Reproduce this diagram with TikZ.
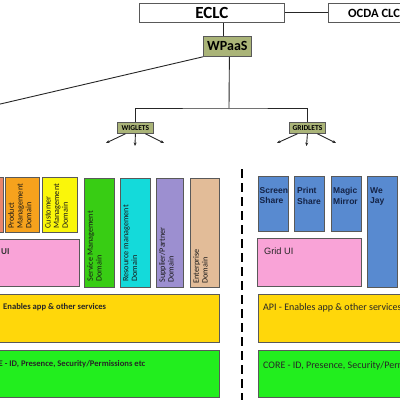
\documentclass[tikz,border=0pt]{standalone}
\usepackage{fontspec}
\setmainfont{Carlito}
\newfontfamily\arialf{Liberation Sans}
\usetikzlibrary{arrows.meta}
\definecolor{olivebox}{RGB}{170,180,120}
\definecolor{salmonbox}{RGB}{233,134,108}
\definecolor{orangebox}{RGB}{246,162,29}
\definecolor{yellowbox}{RGB}{250,246,10}
\definecolor{greenbox}{RGB}{56,205,20}
\definecolor{cyanbox}{RGB}{20,218,218}
\definecolor{purplebox}{RGB}{156,143,208}
\definecolor{tanbox}{RGB}{226,188,152}
\definecolor{pinkbox}{RGB}{249,163,215}
\definecolor{goldbox}{RGB}{255,215,10}
\definecolor{limebox}{RGB}{34,238,30}
\definecolor{bluebox}{RGB}{88,138,208}
\definecolor{navytext}{RGB}{20,35,70}
\newcommand\mybox[6]{\node[box, fill=#6, minimum width=#4pt-#2pt, minimum height=#5pt-#3pt] (#1) at (#2,#3) {};}
\begin{document}
\begin{tikzpicture}[x=1pt,y=-1pt,
  box/.style={draw=black!65, line width=0.8pt, inner sep=0pt, anchor=north west},
  ln/.style={draw=black!85, line width=0.9pt},
  arr/.style={ln, -{Stealth[length=3.5pt,width=3pt]}},
  vt/.style={rotate=90, anchor=north west, align=left, inner sep=0pt,
    font=\fontsize{8.2}{8.7}\selectfont, text=black!90},
  bt/.style={anchor=north west, align=left, inner sep=0pt,
    font=\arialf\bfseries\fontsize{8.5}{10.7}\selectfont, text=navytext},
]
\useasboundingbox (0,0) rectangle (400,400);
\clip (0,0) rectangle (400,400);
% top
\node[box, fill=white, minimum width=145pt, minimum height=19pt, font=\bfseries\fontsize{17}{17}\selectfont] (eclc) at (139,3) {ECLC};
\mybox{ocda}{328}{3}{480}{22}{white}
\node[anchor=base west, inner sep=0pt, font=\bfseries\fontsize{12.6}{12.6}\selectfont] (ocdat) at (348,17) {OCDA CLC};
\node[box, fill=olivebox, minimum width=48pt, minimum height=20pt, font=\bfseries\fontsize{14}{14}\selectfont] (wpaas) at (203,36) {WPaaS};
\draw[ln] (eclc.east) -- (ocda.west);
\draw[ln] ([xshift=20pt]wpaas.north west) -- ([xshift=20pt]wpaas.north west |- eclc.south);
\coordinate (lend) at (-10,106.4);
\draw[ln] (wpaas.south west) -- (lend);
\node[box, fill=olivebox, minimum width=36pt, minimum height=11pt, font=\bfseries\fontsize{7.5}{7.5}\selectfont] (wig) at (117,122) {WIGLETS};
\node[box, fill=olivebox, minimum width=36pt, minimum height=11pt, font=\bfseries\fontsize{7.5}{7.5}\selectfont] (grid) at (289,122) {GRIDLETS};
\coordinate (hub) at (229,108);
\draw[ln] ([xshift=2pt]wpaas.south) -- (hub);
\draw[ln] (wig.north) |- (hub) -| (grid.north);
\coordinate (wa) at (106,143); \coordinate (wb) at (135,146); \coordinate (wc) at (164,143);
\draw[arr] ([xshift=-10pt]wig.south) -- (wa);
\draw[arr] (wig.south) -- (wb);
\draw[arr] ([xshift=10pt]wig.south) -- (wc);
\coordinate (ga) at (277,143); \coordinate (gb) at (306.5,146); \coordinate (gc) at (336,143);
\draw[arr] ([xshift=-10pt]grid.south) -- (ga);
\draw[arr] (grid.south) -- (gb);
\draw[arr] ([xshift=10pt]grid.south) -- (gc);
% dashed divider
\coordinate (dtop) at (242,169); \coordinate (dbot) at (242,404);
\draw[draw=black, line width=1.4pt, dash pattern=on 9pt off 5pt] (dtop) -- (dbot);
% left domain boxes
\mybox{cut}{-20}{177}{3}{232}{salmonbox}
\mybox{prod}{5}{177}{39}{232}{orangebox}
\mybox{cust}{42}{177}{77}{232}{yellowbox}
\mybox{svc}{84}{178}{114}{287}{greenbox}
\mybox{res}{120}{178}{150}{287}{cyanbox}
\mybox{sup}{156}{178}{183}{287}{purplebox}
\mybox{ent}{190}{178}{219}{287}{tanbox}
\node[vt] (prodt) at ([xshift=3pt,yshift=4pt]prod.south west) {Product\\Management\\Domain};
\node[vt] (custt) at ([xshift=3pt,yshift=4pt]cust.south west) {Customer\\Management\\Domain};
\node[vt] (svct) at ([xshift=3pt,yshift=6pt]svc.south west) {Service Management\\Domain};
\node[vt] (rest) at ([xshift=3pt,yshift=6pt]res.south west) {Resource management\\Domain};
\node[vt] (supt) at ([xshift=3pt,yshift=5pt]sup.south west) {Supplier/Partner\\Domain};
\node[vt] (entt) at ([xshift=3pt,yshift=4pt]ent.south west) {Enterprise\\Domain};
\mybox{pinkl}{-20}{239}{79}{286}{pinkbox}
\node[anchor=base west, inner sep=0pt, font=\bfseries\fontsize{9}{9}\selectfont, text=black!80] (pinklt) at (1,254) {UI};
\mybox{apil}{-20}{294}{219}{342}{goldbox}
\node[anchor=base west, inner sep=0pt, font=\bfseries\fontsize{8.6}{8.6}\selectfont, text=black!85] (apilt) at (3,309) {Enables app \& other services};
\mybox{corel}{-20}{350}{219}{397}{limebox}
\node[anchor=base west, inner sep=0pt, font=\bfseries\fontsize{8.6}{8.6}\selectfont, text=black!85] (corelt) at (-1.5,366) {E - ID, Presence, Security/Permissions etc};
% right gridlet boxes
\mybox{scr}{258}{176}{288}{231}{bluebox}
\mybox{prt}{294}{176}{324}{231}{bluebox}
\mybox{mag}{331}{176}{361}{231}{bluebox}
\mybox{wej}{367}{176}{397}{287}{bluebox}
\node[bt] (scrt) at ([xshift=1.5pt,yshift=-11pt]scr.north west) {Screen\\Share};
\node[bt] (prtt) at ([xshift=3pt,yshift=-11pt]prt.north west) {Print\\Share};
\node[bt] (magt) at ([xshift=2pt,yshift=-11pt]mag.north west) {Magic\\Mirror};
\node[bt] (wejt) at ([xshift=3pt,yshift=-11pt]wej.north west) {We\\Jay};
\mybox{pinkr}{257}{238}{361}{286}{pinkbox}
\node[anchor=base west, inner sep=0pt, font=\arialf\fontsize{9.2}{9.2}\selectfont, text=black!85] (pinkrt) at (264,254) {Grid UI};
\mybox{apir}{258}{294}{420}{342}{goldbox}
\node[anchor=base west, inner sep=0pt, font=\fontsize{10}{10}\selectfont, text=black!85] (apirt) at (263,310) {API - Enables app \& other services};
\mybox{corer}{258}{350}{420}{397}{limebox}
\node[anchor=base west, inner sep=0pt, font=\fontsize{10}{10}\selectfont, text=black!85] (corert) at (263,368) {CORE - ID, Presence, Security/Permissions etc};
\end{tikzpicture}
\end{document}
